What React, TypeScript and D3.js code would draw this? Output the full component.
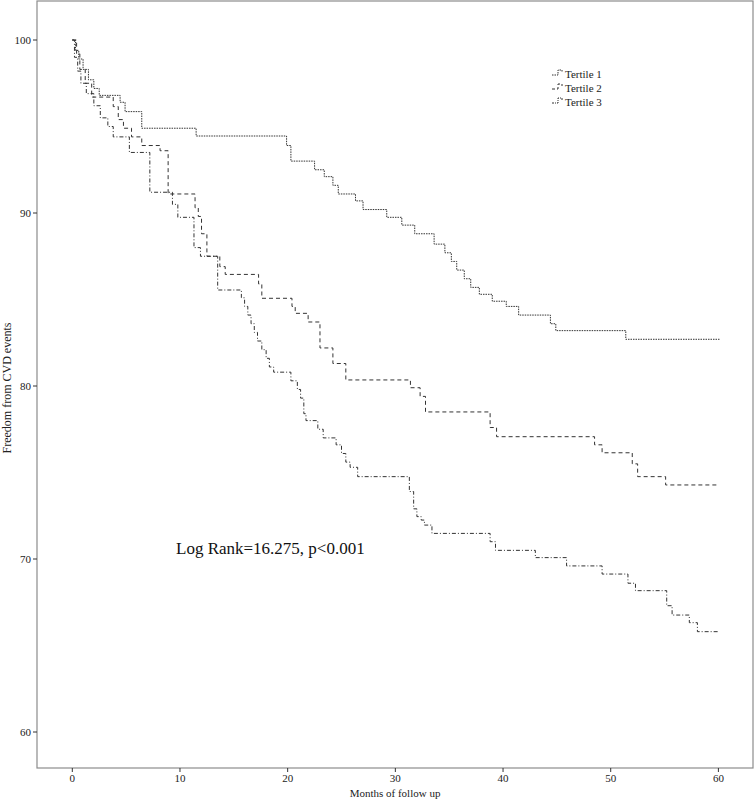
import React from "react";
import * as d3 from "d3";

const seriesNames = ["Tertile 1", "Tertile 2", "Tertile 3"];

const tertile1: [number, number][] = [
  [0, 100], [0.3, 99.4], [0.6, 98.9], [1.0, 98.3], [1.5, 97.7], [2.0, 97.2], [2.5, 96.8],
  [4.44, 96.4], [4.9, 95.86], [6.45, 94.9], [11.5, 94.45], [19.9, 93.9], [20.3, 93.0],
  [22.5, 92.5], [23.4, 92.1], [24.2, 91.6], [24.7, 91.1], [26.3, 90.7], [27.0, 90.2],
  [29.2, 89.75], [30.6, 89.3], [31.8, 88.8], [33.6, 88.2], [34.6, 87.7], [35.2, 87.2],
  [35.7, 86.7], [36.4, 86.2], [37.0, 85.7], [37.8, 85.3], [39.0, 84.9], [40.3, 84.6],
  [41.45, 84.1], [44.4, 83.6], [44.9, 83.2], [51.4, 82.7], [60.1, 82.7],
];

const tertile2: [number, number][] = [
  [0, 100], [0.4, 99.2], [0.7, 98.3], [1.2, 97.5], [1.8, 96.7], [3.8, 96.15], [4.27, 95.4],
  [4.75, 94.9], [5.5, 94.4], [6.45, 93.9], [8.15, 93.6], [8.9, 91.1], [11.4, 90.3],
  [11.7, 89.8], [12.0, 88.8], [12.5, 87.5], [13.7, 86.9], [14.2, 86.45], [17.3, 85.9],
  [17.6, 85.07], [20.4, 84.6], [20.7, 84.2], [21.9, 83.7], [23.0, 82.2], [24.2, 81.3],
  [25.4, 80.35], [31.4, 79.9], [32.3, 79.4], [32.8, 78.5], [38.8, 77.6], [39.4, 77.07],
  [48.5, 76.6], [49.2, 76.14], [52.0, 75.5], [52.5, 74.76], [55.1, 74.28], [60.0, 74.28],
];

const tertile3: [number, number][] = [
  [0, 100], [0.2, 99.0], [0.5, 98.2], [0.8, 97.5], [1.3, 96.9], [2.0, 96.2], [2.6, 95.5],
  [3.3, 95.0], [3.8, 94.4], [5.3, 93.5], [7.2, 91.2], [9.3, 90.5], [9.8, 89.75],
  [11.3, 88.0], [11.9, 87.5], [13.5, 85.55], [15.7, 85.1],
  [16.0, 84.6], [16.3, 84.1], [16.6, 83.6], [16.9, 83.1], [17.2, 82.6], [17.6, 82.1],
  [18.0, 81.6], [18.3, 81.1], [18.7, 80.8], [20.3, 80.3], [20.9, 79.8], [21.2, 79.3],
  [21.5, 78.4], [21.7, 78.0], [22.8, 77.5], [23.3, 77.0], [24.5, 76.6], [25.0, 76.1],
  [25.4, 75.6], [25.8, 75.3], [26.5, 74.76], [31.3, 73.9], [31.7, 72.9], [32.0, 72.45],
  [32.4, 72.25], [32.7, 71.96], [33.4, 71.48], [38.8, 71.0], [39.3, 70.5], [43.0, 70.08],
  [45.9, 69.6], [49.2, 69.13], [51.6, 68.6], [52.3, 68.17], [55.2, 67.3], [55.7, 66.76],
  [57.3, 66.32], [58.05, 65.8], [60.0, 65.8],
];

const xTicks = [0, 10, 20, 30, 40, 50, 60];
const yTicks = [60, 70, 80, 90, 100];
const xTitle = "Months of follow up";
const yTitle = "Freedom from CVD events";
const annotation = "Log Rank=16.275, p<0.001";

const dashes = ["1.5,1", "4,3", "4,2,1,2"];
const legendDashes = ["1.5,1", "3,2", "2,1,1,1"];
const FONT = "'Liberation Serif', 'Times New Roman', serif";

export default function App() {
  const W = 756, H = 804;
  const left = 37, right = 753, top = 1, bottom = 768;
  const x = d3.scaleLinear().domain([0, 60]).range([72.3, 718.4]);
  const y = d3.scaleLinear().domain([60, 100]).range([732, 40]);
  const line = d3.line<[number, number]>()
    .x((d) => x(d[0]))
    .y((d) => y(d[1]))
    .curve(d3.curveStepAfter);
  const all = [tertile1, tertile2, tertile3];
  const axisColor = "#8c8c8c";
  const lineColor = "#333";

  return (
    <svg width={W} height={H} style={{ position: "absolute", left: 0, top: 0, background: "#fff" }}
      fontFamily={FONT}>
      <rect x={0} y={0} width={W} height={H} fill="#fff" />
      <rect x={left} y={top} width={right - left} height={bottom - top} fill="none" stroke={axisColor} strokeWidth={1.2} />
      {yTicks.map((t) => (
        <g key={"y" + t}>
          <line x1={left - 4} x2={left} y1={y(t)} y2={y(t)} stroke="#333" strokeWidth={1} />
          <text x={left - 6} y={y(t)} dy="0.35em" textAnchor="end" fontSize={11} fill="#222">{t}</text>
        </g>
      ))}
      {xTicks.map((t) => (
        <g key={"x" + t}>
          <line x1={x(t)} x2={x(t)} y1={bottom} y2={bottom + 4} stroke="#333" strokeWidth={1} />
          <text x={x(t)} y={bottom + 14} textAnchor="middle" fontSize={11} fill="#222">{t}</text>
        </g>
      ))}
      <text x={(left + right) / 2} y={797} textAnchor="middle" fontSize={11} fill="#222">{xTitle}</text>
      <text transform={`translate(11,388) rotate(-90)`} textAnchor="middle" fontSize={12} fill="#222">{yTitle}</text>
      {all.map((s, i) => (
        <path key={"s" + i} d={line(s) || ""} fill="none" stroke={lineColor} strokeWidth={1} strokeDasharray={dashes[i]} />
      ))}
      <text x={176} y={554} fontSize={17} fill="#111">{annotation}</text>
      {seriesNames.map((n, i) => {
        const ly = 74 + i * 14;
        return (
          <g key={"l" + i}>
            <path d={`M552,${ly + 1} H558 V${ly - 4} H562 V${ly - 2}`} fill="none" stroke={lineColor} strokeWidth={1} strokeDasharray={legendDashes[i]} />
            <text x={565} y={ly} dy="0.35em" fontSize={11} fill="#222">{n}</text>
          </g>
        );
      })}
    </svg>
  );
}
